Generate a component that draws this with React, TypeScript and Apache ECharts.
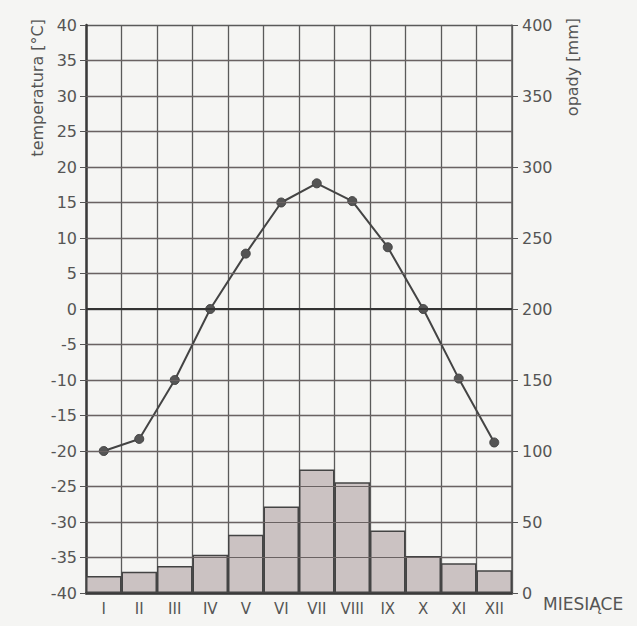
import React, { useEffect, useRef } from "react";
import * as echarts from "echarts";

const months = ["I", "II", "III", "IV", "V", "VI", "VII", "VIII", "IX", "X", "XI", "XII"];
const temperature = [-20, -18.3, -10, 0, 7.8, 15, 17.7, 15.2, 8.7, 0, -9.8, -18.8];
const precipitation = [12, 15, 19, 27, 41, 61, 87, 78, 44, 26, 21, 16];

export default function App() {
  const ref = useRef<HTMLDivElement>(null);
  useEffect(() => {
    if (!ref.current) return;
    const chart = echarts.init(ref.current, undefined, { renderer: "svg" });
    const font = "'DejaVu Sans', sans-serif";
    const labelColor = "#555";
    const gridColor = "#5a5a5a";
    const gridLevels: { yAxis: number; lineStyle?: any }[] = [];
    for (let v = -35; v <= 35; v += 5) {
      gridLevels.push(
        v === 0
          ? { yAxis: v, lineStyle: { color: "#333", width: 2, type: "solid" } }
          : { yAxis: v }
      );
    }
    chart.setOption({
      animation: false,
      backgroundColor: "#f5f5f3",
      textStyle: { fontFamily: font },
      grid: { left: 86, right: 125, top: 25, bottom: 33 },
      xAxis: {
        type: "category",
        data: months,
        boundaryGap: true,
        axisLine: { onZero: false, lineStyle: { color: "#3a3a3a", width: 2.5 } },
        axisTick: { show: false },
        axisLabel: { color: labelColor, fontSize: 15, margin: 8, fontFamily: font },
        splitLine: { show: true, interval: 0, lineStyle: { color: gridColor, width: 1.3 } },
      },
      yAxis: [
        {
          type: "value",
          min: -40,
          max: 40,
          interval: 5,
          position: "left",
          axisLine: { show: true, lineStyle: { color: "#3a3a3a", width: 2.5 } },
          axisTick: { show: true, length: 6, lineStyle: { color: "#555" } },
          axisLabel: { color: labelColor, fontSize: 16, margin: 9, fontFamily: font },
          splitLine: { show: true, lineStyle: { color: gridColor, width: 1.3 } },
        },
        {
          type: "value",
          min: 0,
          max: 400,
          interval: 50,
          position: "right",
          axisLine: { show: true, lineStyle: { color: gridColor, width: 1.5 } },
          axisTick: { show: true, length: 6, lineStyle: { color: "#555" } },
          axisLabel: { color: labelColor, fontSize: 16, margin: 10, fontFamily: font },
          splitLine: { show: false },
        },
      ],
      series: [
        {
          type: "bar",
          yAxisIndex: 1,
          data: precipitation,
          barCategoryGap: "0%",
          itemStyle: {
            color: "#cbc2c2",
            borderColor: "#444",
            borderWidth: 1.5,
          },
        },
        {
          type: "line",
          yAxisIndex: 0,
          data: temperature,
          symbol: "circle",
          symbolSize: 9,
          lineStyle: { color: "#444", width: 2 },
          itemStyle: { color: "#555", borderColor: "#444", borderWidth: 1 },
          z: 3,
          markLine: {
            silent: true,
            symbol: ["none", "none"],
            label: { show: false },
            lineStyle: { color: "#6a6262", width: 1.2, type: "solid" },
            data: gridLevels,
          },
        },
      ],
      graphic: [
        {
          type: "text",
          x: 37,
          y: 19,
          rotation: Math.PI / 2,
          style: {
            text: "temperatura [°C]",
            fill: labelColor,
            font: `16px ${font}`,
            textAlign: "right",
            textVerticalAlign: "middle",
          },
        },
        {
          type: "text",
          x: 572,
          y: 18,
          rotation: Math.PI / 2,
          style: {
            text: "opady [mm]",
            fill: labelColor,
            font: `16px ${font}`,
            textAlign: "right",
            textVerticalAlign: "middle",
          },
        },
        {
          type: "text",
          x: 543,
          y: 604,
          style: {
            text: "MIESIĄCE",
            fill: labelColor,
            font: `17px ${font}`,
            textAlign: "left",
            textVerticalAlign: "middle",
          },
        },
      ],
    });
    return () => chart.dispose();
  }, []);
  return (
    <div
      ref={ref}
      style={{ position: "fixed", left: 0, top: 0, width: 637, height: 626 }}
    />
  );
}
